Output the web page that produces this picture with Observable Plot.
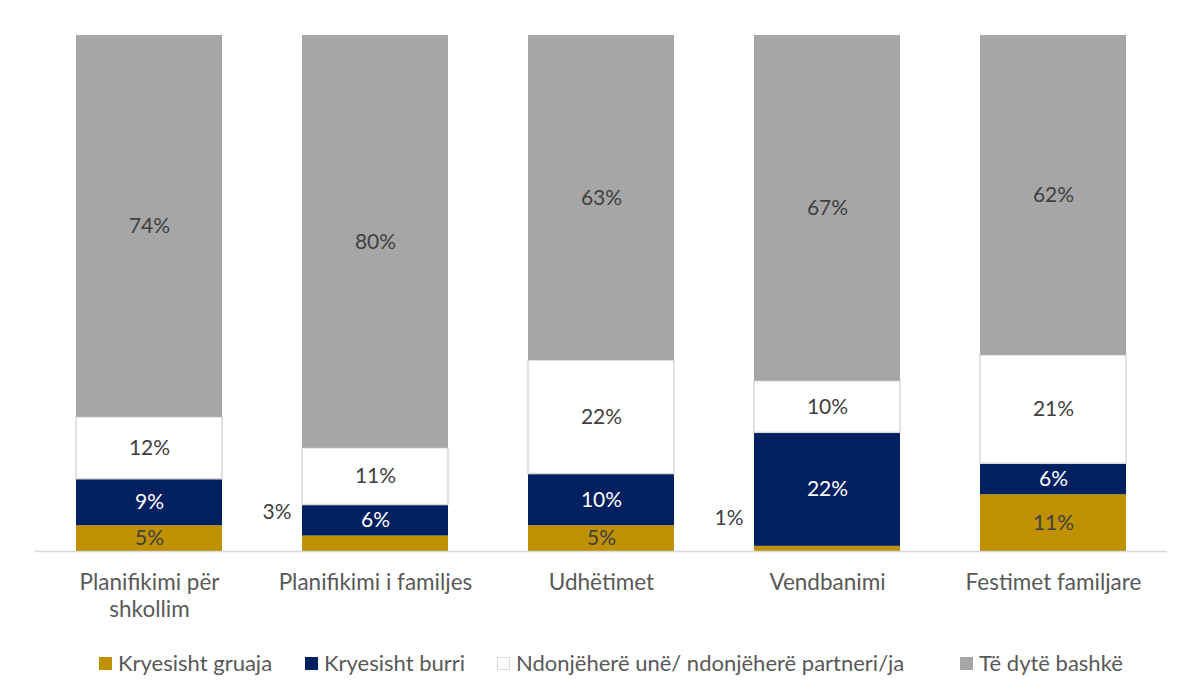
<!DOCTYPE html>
<html>
<head>
<meta charset="utf-8">
<script src="https://cdn.jsdelivr.net/npm/d3@7"></script>
<script src="https://cdn.jsdelivr.net/npm/@observablehq/plot@0.6"></script>
<style>
  body { margin: 0; background: #fff; font-family: Lato, sans-serif; }
  #chart { width: 1187px; }
  #chart svg { display: block; }
  .legend { position: relative; width: 1187px; height: 30px; margin-top: 18px; font-size: 22px; line-height: 30px; color: #595959; }
  .legend span.item { position: absolute; top: 0; display: inline-flex; align-items: center; white-space: nowrap; }
  .legend .sw { width: 13px; height: 13px; margin-right: 6px; box-sizing: border-box; flex: none; }
</style>
</head>
<body>
<div id="chart"></div>
<script>
const categories = ["Planifikimi për shkollim", "Planifikimi i familjes", "Udhëtimet", "Vendbanimi", "Festimet familjare"];
const tickLabels = ["Planifikimi për\nshkollim", "Planifikimi i familjes", "Udhëtimet", "Vendbanimi", "Festimet familjare"];
const seriesNames = ["Kryesisht gruaja", "Kryesisht burri", "Ndonjëherë unë/ ndonjëherë partneri/ja", "Të dytë bashkë"];
const gruaja = [5, 3, 5, 1, 11];
const burri = [9, 6, 10, 22, 6];
const ndonjehere = [12, 11, 22, 10, 21];
const dyte = [74, 80, 63, 67, 62];
const colors = ["#BF9000", "#002060", "#FFFFFF", "#A6A6A6"];
const textColors = ["#404040", "#FFFFFF", "#404040", "#404040"];

const seriesValues = [gruaja, burri, ndonjehere, dyte];
const rows = [];
categories.forEach((c, i) => {
  let acc = 0;
  seriesValues.forEach((vals, s) => {
    const v = vals[i];
    rows.push({cat: c, series: seriesNames[s], si: s, value: v, y1: acc, y2: acc + v});
    acc += v;
  });
});

const plot = Plot.plot({
  width: 1187,
  height: 630,
  marginLeft: 35,
  marginRight: 20,
  marginTop: 35,
  marginBottom: 79,
  style: {fontFamily: "Lato, sans-serif", background: "#fff"},
  x: {domain: categories, paddingInner: 0.355, paddingOuter: 0.177, label: null},
  y: {domain: [0, 100], axis: null},
  color: {domain: seriesNames, range: colors},
  marks: [
    Plot.axisX({
      tickSize: 0,
      tickPadding: 19,
      fontSize: 22.5,
      lineHeight: 1.2,
      tickFormat: (d) => tickLabels[categories.indexOf(d)],
      fill: "#595959",
      label: null
    }),
    Plot.rectY(rows, {
      x: "cat", y1: "y1", y2: "y2",
      fill: "series",
      stroke: (d) => d.si === 2 ? "#D9D9D9" : "none",
      strokeWidth: 1.5,
      inset: 0
    }),
    Plot.ruleY([0], {stroke: "#D9D9D9", strokeWidth: 1.5}),
    Plot.text(rows.filter(d => d.value >= 5), {
      x: "cat",
      y: (d) => (d.y1 + d.y2) / 2,
      text: (d) => d.value + "%",
      fill: (d) => textColors[d.si],
      fontSize: 21
    }),
    Plot.text(rows.filter(d => d.value < 5 && d.si === 0), {
      x: "cat",
      y: (d) => (d.y1 + d.y2) / 2,
      text: (d) => d.value + "%",
      fill: "#404040",
      fontSize: 21,
      textAnchor: "end",
      dx: -84,
      dy: -31
    })
  ]
});
document.getElementById("chart").appendChild(plot);

const legendLeft = [99, 305, 497, 960];
const legend = document.createElement("div");
legend.className = "legend";
seriesNames.forEach((name, s) => {
  const item = document.createElement("span");
  item.className = "item";
  item.style.left = legendLeft[s] + "px";
  const sw = document.createElement("span");
  sw.className = "sw";
  sw.style.background = colors[s];
  if (s === 2) sw.style.border = "1.5px solid #D9D9D9";
  item.appendChild(sw);
  item.appendChild(document.createTextNode(name));
  legend.appendChild(item);
});
document.getElementById("chart").appendChild(legend);
</script>
</body>
</html>
